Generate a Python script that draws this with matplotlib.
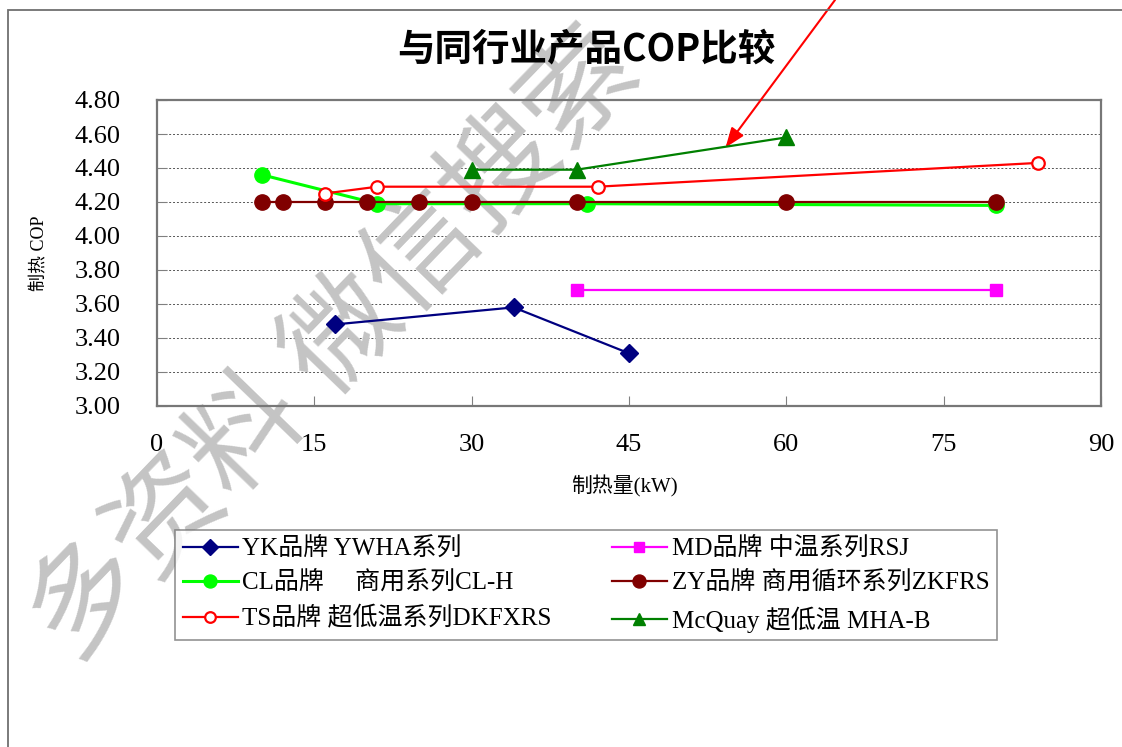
import matplotlib
matplotlib.use("Agg")
import matplotlib.pyplot as plt
from matplotlib.patches import Rectangle

plt.rcParams["font.family"] = ["Liberation Serif", "Noto Sans CJK SC", "DejaVu Sans"]
plt.rcParams["axes.unicode_minus"] = False

# ── data ─────────────────────────────────────────────────────────────────────
YK_X = [17, 34, 45]
YK_Y = [3.48, 3.58, 3.31]
MD_X = [40, 80]
MD_Y = [3.68, 3.68]
CL_X = [10, 21, 41, 80]
CL_Y = [4.36, 4.19, 4.19, 4.18]
ZY_X = [10, 12, 16, 20, 25, 30, 40, 60, 80]
ZY_Y = [4.20, 4.20, 4.20, 4.20, 4.20, 4.20, 4.20, 4.20, 4.20]
TS_X = [16, 21, 42, 84]
TS_Y = [4.25, 4.29, 4.29, 4.43]
MC_X = [30, 40, 60]
MC_Y = [4.39, 4.39, 4.58]

X_TICKS = [0, 15, 30, 45, 60, 75, 90]
Y_TICKS = [3.00, 3.20, 3.40, 3.60, 3.80, 4.00, 4.20, 4.40, 4.60, 4.80]

LABELS = {
    "YK": "YK品牌 YWHA系列",
    "MD": "MD品牌 中温系列RSJ",
    "CL": "CL品牌　 商用系列CL-H",
    "ZY": "ZY品牌 商用循环系列ZKFRS",
    "TS": "TS品牌 超低温系列DKFXRS",
    "MC": "McQuay 超低温 MHA-B",
}

W, H = 1122, 747
fig = plt.figure(figsize=(W / 100, H / 100), dpi=100)
ax = fig.add_axes([157 / W, 1 - 406 / H, (1101 - 157) / W, (406 - 100) / H])

# outer frame of the chart area
fig.patches.append(Rectangle((8 / W, -0.1), 1.2, 1 - 10 / H + 0.1,
                             transform=fig.transFigure, fill=False,
                             edgecolor="#707070", linewidth=1.3))

lw = 1.6
l_yk, = ax.plot(YK_X, YK_Y, color="#000080", lw=lw, marker="D", ms=9, zorder=4)
l_md, = ax.plot(MD_X, MD_Y, color="#ff00ff", lw=lw, marker="s", ms=9, zorder=4)
l_cl, = ax.plot(CL_X, CL_Y, color="#00ff00", lw=lw + 0.6, marker="o", ms=11, zorder=3)
l_zy, = ax.plot(ZY_X, ZY_Y, color="#800000", lw=lw, marker="o", ms=11, zorder=4)
l_ts, = ax.plot(TS_X, TS_Y, color="#ff0000", lw=lw, marker="o", ms=9,
                mfc="white", mew=1.6, zorder=4)
l_mc, = ax.plot(MC_X, MC_Y, color="#008000", lw=lw, marker="^", ms=11, zorder=4)

ax.set_xlim(0, 90)
ax.set_ylim(3.0, 4.8)
ax.set_xticks(X_TICKS)
ax.set_xticklabels([str(v) for v in X_TICKS])
ax.set_yticks(Y_TICKS)
ax.set_yticklabels([f"{v:.2f}" for v in Y_TICKS])
ax.tick_params(axis="both", direction="in", labelsize=19, length=7,
               color="#808080")
ax.tick_params(axis="y", pad=26)
ax.tick_params(axis="x", pad=20)
ax.grid(axis="y", linestyle=(0, (2, 2)), color="#555555", linewidth=0.7)
for sp in ax.spines.values():
    sp.set_color("#777777")
    sp.set_linewidth(1.6)

fig.text(586 / W, 1 - 49 / H, "与同行业产品COP比较", ha="center", va="center",
         fontsize=27, fontweight=900,
         family=["Noto Sans CJK SC", "DejaVu Sans"])
fig.text(40 / W, 1 - 253 / H, "制热 COP", rotation=90, ha="center", va="center",
         fontsize=13)
fig.text(624 / W, 1 - 486 / H, "制热量(kW)", ha="center", va="center",
         fontsize=15)

# legend: row order YK/MD, CL/ZY, TS/McQuay
handles = [l_yk, l_cl, l_ts, l_md, l_zy, l_mc]
names = [LABELS[k] for k in ["YK", "CL", "TS", "MD", "ZY", "MC"]]
leg = fig.legend(handles, names, ncol=2, mode="expand", loc="center",
                 bbox_to_anchor=(175 / W, 1 - 643 / H, 822 / W, 116 / H),
                 fontsize=18, frameon=True, fancybox=False, markerscale=0.85,
                 handlelength=2.2, handletextpad=0.2, labelspacing=0.45,
                 borderpad=0.3, borderaxespad=0)
leg.get_frame().set_edgecolor("#777777")
leg.get_frame().set_linewidth(1.2)

# watermark
ax.text(335 / W, 1 - 345 / H, "多资料 微信搜索", transform=fig.transFigure,
        rotation=46, ha="center", va="center", fontsize=82, color="#c4c4c4",
        family=["Noto Sans CJK SC"], clip_on=False, zorder=1.6)

# red arrow
ax.annotate("", xy=(54.2, 4.52), xycoords="data",
            xytext=(835 / W, 1.0), textcoords="figure fraction",
            arrowprops=dict(arrowstyle="-|>,head_length=1.2,head_width=0.45",
                            color="red", lw=1.5, shrinkA=0, shrinkB=0),
            annotation_clip=False)

fig.savefig("out.png", dpi=100)
